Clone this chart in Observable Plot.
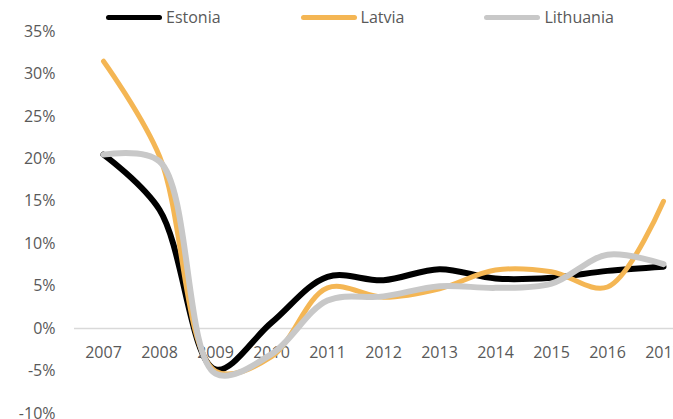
<!DOCTYPE html>
<html>
<head>
<meta charset="utf-8">
<script src="https://cdn.jsdelivr.net/npm/d3@7"></script>
<script src="https://cdn.jsdelivr.net/npm/@observablehq/plot@0.6"></script>
<style>
  html, body { margin: 0; padding: 0; background: #fff; overflow: hidden; width: 673px; height: 419px; }
  #wrap { position: relative; width: 673px; height: 419px; overflow: hidden; font-family: "Open Sans", sans-serif; }
  #legend { position: absolute; top: 6px; left: 106px; display: flex; align-items: center; gap: 80px; font-size: 16px; color: #595959; z-index: 2; white-space: nowrap; }
  .item { display: flex; align-items: center; }
  .swatch { width: 56px; height: 5px; border-radius: 3px; margin-right: 4px; }
  #chart svg { max-width: none !important; }
</style>
</head>
<body>
<div id="wrap"><div id="legend"></div><div id="chart"></div></div>
<script>
const years = [2007, 2008, 2009, 2010, 2011, 2012, 2013, 2014, 2015, 2016, 2017];
const estonia   = [20.5, 14.0, -4.8, 0.7, 6.1, 5.7, 7.0, 5.9, 6.0, 6.8, 7.3];
const latvia    = [31.5, 20.3, -5.0, -3.3, 4.8, 3.7, 4.7, 6.9, 6.7, 4.9, 15.0];
const lithuania = [20.5, 19.7, -5.3, -3.0, 3.3, 3.8, 5.0, 4.8, 5.3, 8.7, 7.6];
const seriesNames = ["Estonia", "Latvia", "Lithuania"];
const seriesColors = ["#000000", "#f4b654", "#c8c8c8"];
const yTicks = [-10, -5, 0, 5, 10, 15, 20, 25, 30, 35];

const seriesValues = [estonia, latvia, lithuania];
const rows = [];
seriesNames.forEach((name, s) => {
  years.forEach((yr, i) => rows.push({series: name, year: yr, value: seriesValues[s][i]}));
});

const legend = document.getElementById("legend");
seriesNames.forEach((name, s) => {
  const it = document.createElement("div");
  it.className = "item";
  const sw = document.createElement("div");
  sw.className = "swatch";
  sw.style.background = seriesColors[s];
  const lb = document.createElement("span");
  lb.textContent = name;
  it.appendChild(sw); it.appendChild(lb);
  legend.appendChild(it);
});

const chart = Plot.plot({
  width: 720,
  height: 419,
  marginLeft: 74,
  marginRight: 29,
  marginTop: 31,
  marginBottom: 6,
  style: {fontFamily: "'Open Sans', sans-serif", fontSize: "16px", color: "#595959", background: "transparent", overflow: "visible", maxWidth: "none"},
  x: {type: "point", domain: years, padding: 0.5, axis: null},
  y: {domain: [-10, 35], axis: null},
  marks: [
    Plot.axisY({ticks: yTicks, tickSize: 0, tickPadding: 19, tickFormat: d => `${d}%`, label: null, fill: "#595959", fontSize: 16}),
    Plot.ruleY([0], {stroke: "#d9d9d9", strokeWidth: 1.5}),
    Plot.text(years, {x: d => d, y: () => 0, dy: 24, text: d => String(d), fill: "#595959", fontSize: 16}),
    ...seriesNames.map((name, s) => Plot.line(rows.filter(r => r.series === name), {
      x: "year", y: "value", stroke: seriesColors[s],
      strokeWidth: s === 1 ? 5 : 6, curve: "catmull-rom", strokeLinecap: "round", strokeLinejoin: "round"
    }))
  ]
});
document.getElementById("chart").appendChild(chart);
</script>
</body>
</html>
